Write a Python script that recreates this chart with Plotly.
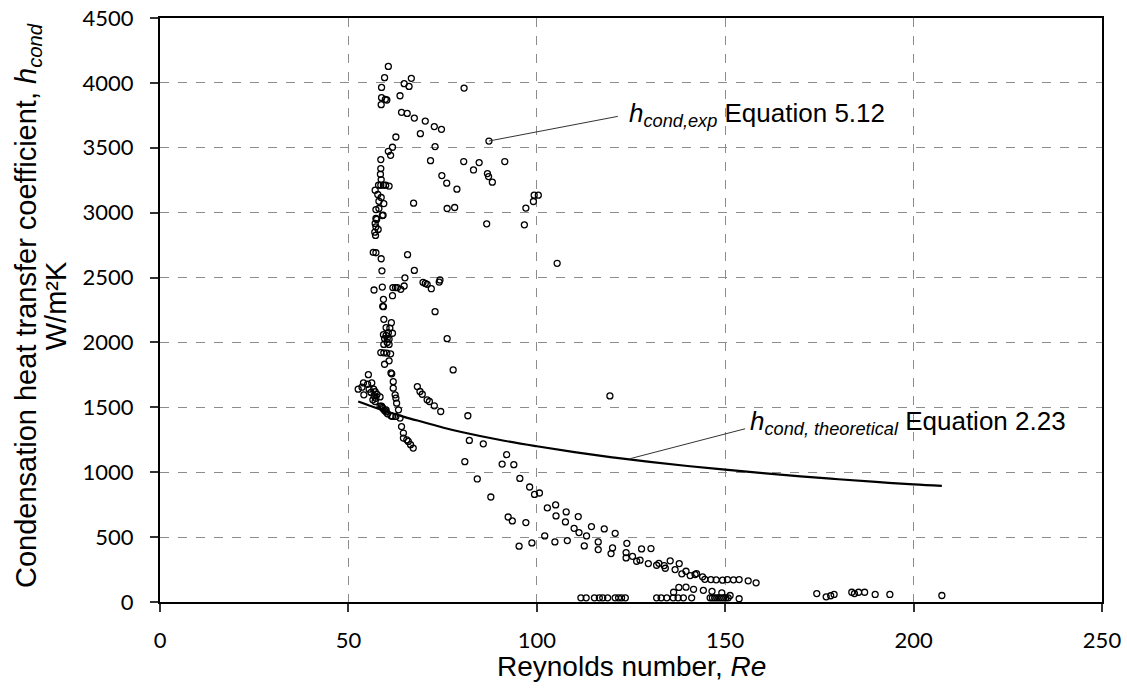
import plotly.graph_objects as go

# Experimental points: Reynolds number and condensation HTC (W/m2K)
re_exp = [
    60.6, 59.6, 58.8, 58.8, 59.8, 60.2, 58.7, 64.8, 66.1, 66.7, 63.7, 80.7, 64.1, 65.6, 67.5, 70.4, 69.1, 72.8, 74.7, 87.3,
    62.6, 61.7, 60.6, 61.2, 73.0, 71.8, 80.6, 83.2, 84.7, 86.9, 87.2, 88.2, 91.5, 74.8, 76.1, 78.8, 67.3, 76.2, 78.2,
    96.7, 97.1, 99.1, 99.3, 100.4, 86.7, 105.4,
    58.6, 58.6, 58.5, 58.7, 58.0, 58.6, 59.3, 59.9, 60.8, 57.1, 57.8, 58.7, 58.1, 59.4, 57.3, 58.1, 59.2, 59.0, 57.3, 57.5,
    57.1, 57.3, 57.9, 57.0, 57.2, 56.6, 57.3, 58.7, 65.7, 58.9, 67.5, 65.0, 56.8, 59.0, 61.8, 62.5, 63.0, 63.9, 64.8, 61.7,
    69.8, 70.4, 70.9, 72.0, 74.1, 74.3, 59.3, 59.3, 59.1, 73.0, 59.4, 61.4, 60.0, 61.0, 61.7, 59.3, 60.0, 60.6, 59.6, 60.3,
    60.8, 60.3, 59.4, 60.8, 76.2, 58.6, 59.4, 60.2, 61.2, 59.6, 60.8, 77.8, 61.5, 61.3,
    61.9, 61.9, 62.4, 62.6, 62.8, 63.3, 63.7, 64.1, 64.6, 64.6, 65.5, 65.9, 66.5, 67.2,
    55.3, 54.0, 55.1, 56.2, 52.6, 53.6, 54.1, 56.7, 57.1, 57.6, 58.4, 55.5, 56.0, 56.8, 57.3, 56.5, 57.1, 58.8, 59.2, 59.6,
    60.0, 60.4, 61.3, 61.7, 62.6, 58.4, 59.0, 60.0,
    68.3, 69.0, 69.6, 70.9, 71.5, 72.8, 74.5,
    81.7, 82.1, 85.8, 80.9, 84.2, 92.0, 90.8, 93.9, 87.8, 119.4,
    95.5, 98.1, 99.4, 100.7, 92.4, 93.5, 95.3, 97.1, 98.7,
    102.8, 105.0, 105.1, 107.8, 107.6, 111.0, 102.1, 104.8, 108.1,
    109.9, 111.2, 113.2, 114.5, 112.6, 116.3, 116.3, 117.9, 119.7, 120.1, 120.8, 123.9, 123.7, 123.7, 125.4, 126.5, 127.4,
    127.8, 129.6, 130.3, 131.8, 132.4, 133.8, 134.1, 135.4, 136.7, 137.8, 138.5, 139.6, 140.7, 142.0, 142.4, 144.0, 144.6,
    146.2, 147.6, 149.3, 150.6, 152.2, 153.7, 156.1, 158.2,
    136.3, 137.7, 139.6, 141.6, 144.2, 146.5, 149.1, 151.3, 153.7,
    111.7, 113.1, 115.3, 116.6, 117.5, 118.8, 120.8, 121.7, 122.5, 123.5, 131.8, 133.0, 134.5, 136.2, 137.5, 138.9, 141.1,
    146.0, 146.6, 147.2, 147.8, 148.4, 149.0, 149.6, 150.2, 150.8,
    174.3, 176.8, 178.0, 178.9, 183.6, 184.3, 185.4, 187.0, 189.8, 193.7, 207.5,
]
h_exp = [
    4127, 4040, 3965, 3886, 3873, 3868, 3832, 3994, 3973, 4035, 3901, 3960, 3773, 3765, 3729, 3706, 3609, 3663, 3642, 3552,
    3583, 3504, 3473, 3442, 3509, 3401, 3394, 3329, 3386, 3301, 3278, 3235, 3394, 3286, 3227, 3181, 3073, 3032, 3040,
    2906, 3035, 3086, 3135, 3135, 2914, 2610,
    3409, 3340, 3296, 3255, 3212, 3212, 3212, 3212, 3205, 3173, 3140, 3117, 3088, 3070, 3024, 3032, 2981, 2978, 2955, 2948,
    2917, 2891, 2871, 2850, 2825, 2694, 2691, 2645, 2676, 2552, 2555, 2498, 2404, 2427, 2423, 2423, 2423, 2409, 2435, 2360,
    2463, 2455, 2448, 2414, 2465, 2481, 2332, 2276, 2278, 2237, 2178, 2152, 2114, 2111, 2071, 2060, 2055, 2075, 2030, 2030,
    2025, 2000, 1985, 1985, 2029, 1922, 1920, 1918, 1912, 1832, 1858, 1788, 1758, 1765,
    1698, 1648, 1596, 1571, 1532, 1481, 1417, 1352, 1302, 1263, 1250, 1237, 1212, 1186,
    1752, 1688, 1678, 1688, 1640, 1655, 1596, 1640, 1620, 1600, 1580, 1640, 1615, 1590, 1570, 1558, 1545, 1509, 1490, 1475,
    1465, 1450, 1435, 1430, 1430, 1510, 1500, 1480,
    1660, 1622, 1601, 1558, 1545, 1512, 1468,
    1435, 1245, 1219, 1081, 948, 1135, 1063, 1058, 809, 1588,
    952, 886, 829, 840, 655, 625, 430, 612, 455,
    725, 748, 663, 694, 617, 658, 509, 463, 473,
    568, 535, 509, 581, 432, 463, 404, 563, 373, 417, 529, 452, 381, 340, 352, 314, 322,
    409, 296, 412, 283, 298, 281, 260, 317, 250, 296, 217, 237, 204, 212, 219, 194, 175,
    173, 171, 168, 173, 171, 173, 163, 148,
    75, 112, 114, 98, 90, 82, 71, 50, 25,
    32, 32, 32, 32, 32, 32, 32, 32, 32, 32, 32, 32, 32, 32, 32, 32, 32,
    32, 32, 32, 32, 32, 32, 32, 32, 32,
    65, 40, 48, 58, 75, 65, 75, 75, 58, 58, 50,
]

# Theoretical curve (Equation 2.23)
re_theo = [52.6, 55, 60, 65, 70, 75, 80, 90, 100, 110, 120, 130, 140, 150, 160, 170, 180, 190, 200, 207.5]
h_theo = [1545, 1520, 1470, 1425, 1385, 1345, 1310, 1250, 1200, 1155, 1115, 1080, 1048, 1020, 993, 968, 946, 925, 906, 895]

x_ticks = [0, 50, 100, 150, 200, 250]
y_ticks = [0, 500, 1000, 1500, 2000, 2500, 3000, 3500, 4000, 4500]

fig = go.Figure()
fig.add_trace(go.Scatter(
    x=re_exp, y=h_exp, mode="markers",
    marker=dict(symbol="circle-open", size=6, color="black", line=dict(width=1.3, color="black")),
    showlegend=False, cliponaxis=False,
))
fig.add_trace(go.Scatter(
    x=re_theo, y=h_theo, mode="lines", line=dict(color="black", width=2.2, shape="spline"),
    showlegend=False,
))

tickfont = dict(family="Lato, Carlito, sans-serif", size=22, color="black")
titlefont = dict(family="Liberation Sans, Arial, sans-serif", size=29, color="black")
xtitlefont = dict(family="Liberation Sans, Arial, sans-serif", size=28, color="black")

fig.update_xaxes(
    range=[0, 250], tickvals=x_ticks, ticks="outside", ticklen=8, tickwidth=2, tickcolor="#333",
    showline=True, linewidth=2, linecolor="black", mirror=True, automargin=False,
    showgrid=True, gridcolor="#8c8c8c", griddash="dash", gridwidth=1, zeroline=False,
    tickfont=tickfont, ticklabelstandoff=10,
)
fig.update_yaxes(
    range=[0, 4500], tickvals=y_ticks, ticks="outside", ticklen=8, tickwidth=2, tickcolor="#333",
    showline=True, linewidth=2, linecolor="black", mirror=True, automargin=False,
    showgrid=True, gridcolor="#8c8c8c", griddash="dash", gridwidth=1, zeroline=False,
    tickfont=tickfont, ticklabelstandoff=12,
)

# Axis titles (placed as annotations to control line spacing)
fig.add_annotation(x=-0.140, y=0.507, xref="paper", yref="paper", xanchor="center", yanchor="middle",
                   textangle=-90, showarrow=False, font=titlefont,
                   text="Condensation heat transfer coefficient, <i>h<sub>cond</sub></i>")
fig.add_annotation(x=-0.110, y=0.507, xref="paper", yref="paper", xanchor="center", yanchor="middle",
                   textangle=-90, showarrow=False, font=titlefont, text="W/m²K")
fig.add_annotation(x=0.5, y=-0.111, xref="paper", yref="paper", xanchor="center", yanchor="middle",
                   showarrow=False, font=xtitlefont, text="Reynolds number, <i>Re</i>")

annfont = dict(family="Liberation Sans, Arial, sans-serif", size=26, color="black")
fig.add_shape(type="line", xref="x", yref="y", x0=87.3, y0=3552, x1=121.5, y1=3742,
              line=dict(color="#333", width=1))
fig.add_shape(type="line", xref="x", yref="y", x0=124.7, y0=1104, x1=155.3, y1=1335,
              line=dict(color="#333", width=1))
fig.add_annotation(x=123.9, y=3758, xref="x", yref="y", xanchor="left", yanchor="middle",
                   text="<i>h<sub>cond,exp</sub></i> Equation 5.12", showarrow=False, font=annfont)
fig.add_annotation(x=156.1, y=1381, xref="x", yref="y", xanchor="left", yanchor="middle",
                   text="<i>h<sub>cond, theoretical</sub></i> Equation 2.23", showarrow=False, font=annfont)

fig.update_layout(
    width=1127, height=694, margin=dict(l=160, r=25, t=18, b=92),
    paper_bgcolor="white", plot_bgcolor="white",
)
fig.write_html("out.html", config={"displayModeBar": False},
               post_script="document.body.style.margin='0px';document.body.style.overflow='hidden';")
